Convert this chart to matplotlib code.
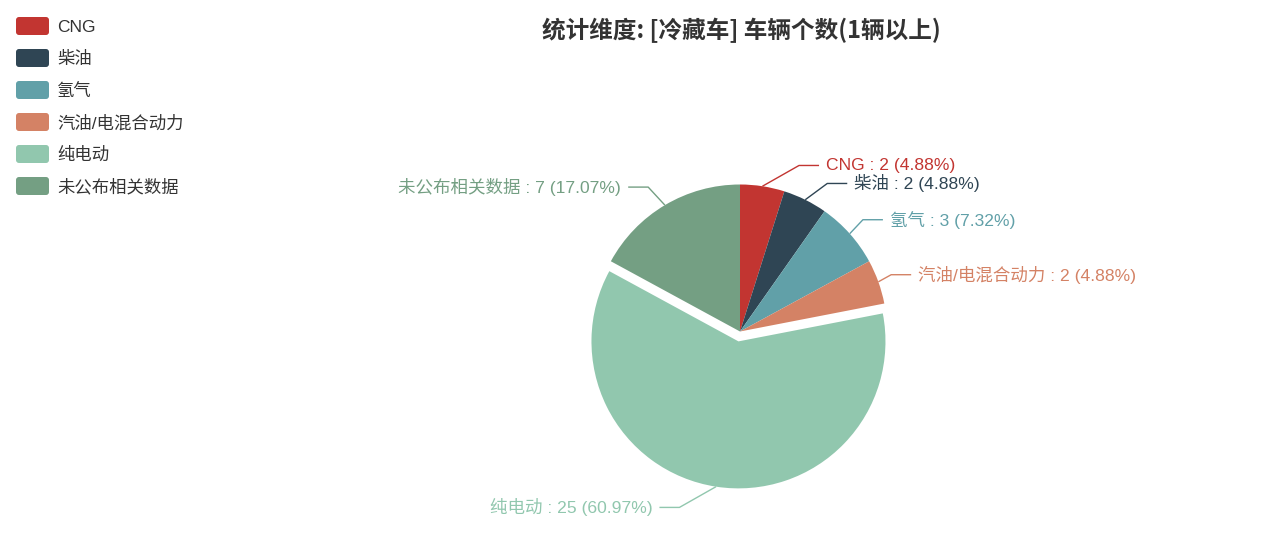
import numpy as np
import matplotlib
matplotlib.use('Agg')
import matplotlib.pyplot as plt
from matplotlib.patches import FancyBboxPatch

plt.rcParams['font.family'] = ['Liberation Sans', 'Noto Sans CJK SC', 'DejaVu Sans']

# 数据
categories = ['CNG', '柴油', '氢气', '汽油/电混合动力', '纯电动', '未公布相关数据']
counts = [2, 2, 3, 2, 25, 7]
percent_labels = ['4.88%', '4.88%', '7.32%', '4.88%', '60.97%', '17.07%']
colors = ['#c23531', '#2f4554', '#61a0a8', '#d48265', '#91c7ae', '#749f83']
selected = '纯电动'
title = '统计维度: [冷藏车] 车辆个数(1辆以上)'

W, H = 1267, 536
CX, CY = 740, 331.5   # pixels from top
R = 147
OFFSET = 10


def py(y):
    # pixel-from-top -> data y
    return H - y


fig = plt.figure(figsize=(W / 100, H / 100), dpi=100)
ax = fig.add_axes([0, 0, 1, 1])

explode = [OFFSET if c == selected else 0 for c in categories]
wedges, _ = ax.pie(counts, colors=colors, startangle=90, counterclock=False,
                   explode=explode, radius=R, center=(CX, py(CY)),
                   wedgeprops=dict(linewidth=0))
ax.set_xlim(0, W)
ax.set_ylim(0, H)
ax.set_aspect('auto')
ax.axis('off')

# 标签 (echarts 风格引导线)
items = []
for w, name, cnt, pct, col in zip(wedges, categories, counts, percent_labels, colors):
    mid = np.deg2rad((w.theta1 + w.theta2) / 2)
    cx, cy = w.center
    dx, dy = np.cos(mid), np.sin(mid)
    x0, y0 = cx + R * dx, cy + R * dy
    ly = cy + (R + 21) * dy
    items.append(dict(name=name, txt=f'{name} : {cnt} ({pct})', col=col,
                      side=1 if dx >= 0 else -1, cx=cx, cy=cy,
                      x0=x0, y0=y0, ly=ly))

# 避免重叠
for side in (1, -1):
    grp = sorted([it for it in items if it['side'] == side], key=lambda d: -d['ly'])
    for a, b in zip(grp, grp[1:]):
        if a['ly'] - b['ly'] < 18:
            b['ly'] = a['ly'] - 18

for it in items:
    s = it['side']
    ddy = it['ly'] - it['cy']
    tx = it['cx'] + s * np.sqrt(max((R + 40) ** 2 - ddy ** 2, 0))
    ex = tx - s * 27
    x3 = tx - s * 7
    ax.plot([it['x0'], ex, x3], [it['y0'], it['ly'], it['ly']],
            color=it['col'], lw=1, solid_capstyle='butt')
    ax.text(tx, it['ly'], it['txt'], color=it['col'], fontsize=12.6,
            ha='left' if s > 0 else 'right', va='center')

# 标题
ax.text(741, py(30), title, ha='center', va='center', fontsize=17,
        fontweight='bold', color='#333333',
        family=['Noto Sans CJK SC', 'DejaVu Sans'])

# 图例
for i, (name, col) in enumerate(zip(categories, colors)):
    yc = 26 + i * 32
    ax.add_patch(FancyBboxPatch((16 + 3, py(yc) - 9 + 3), 33 - 6, 18 - 6,
                                boxstyle='round,pad=3', facecolor=col,
                                edgecolor='none'))
    ax.text(57, py(yc + 1), name, ha='left', va='center', fontsize=12.5,
            color='#333333')

fig.savefig('out.png', dpi=100)
